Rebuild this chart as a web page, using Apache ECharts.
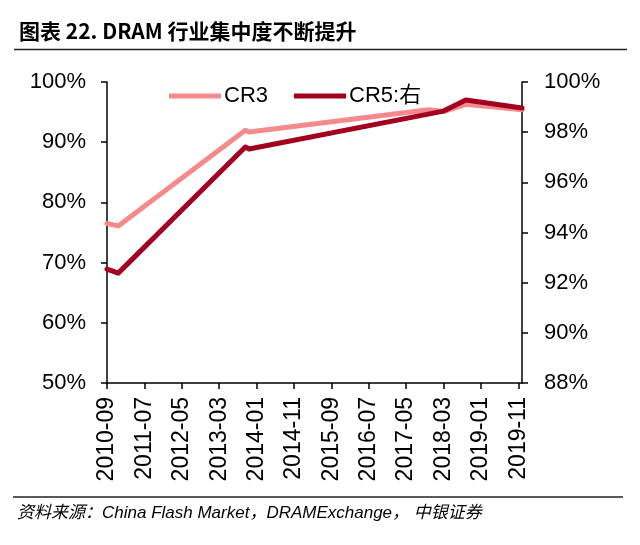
<!DOCTYPE html>
<html>
<head>
<meta charset="utf-8">
<script src="https://cdn.jsdelivr.net/npm/echarts@6/dist/echarts.min.js"></script>
<style>
html, body { margin: 0; padding: 0; background: #fff; }
#chart { width: 640px; height: 545px; }
</style>
</head>
<body>
<div id="chart"></div>
<script>
// monthly axis 2010-09 .. 2019-12, values only where the line bends
var startYear = 2010, startMonth = 9, monthCount = 112;

var cr3Months = ['2010-09', '2010-12', '2013-10', '2013-11', '2017-11', '2018-03', '2018-09', '2019-12'];
var cr3Values = [76.5, 76.1, 92.0, 91.7, 95.4, 95.1, 96.3, 95.4];

var cr5Months = ['2010-09', '2010-12', '2013-10', '2013-11', '2018-03', '2018-09', '2019-12'];
var cr5Values = [92.54, 92.38, 97.41, 97.33, 98.84, 99.28, 98.96];

var leftTicks = { min: 50, max: 100, step: 10 };
var rightTicks = { min: 88, max: 100, step: 2 };

var months = [];
for (var i = 0; i < monthCount; i++) {
    var m = startMonth - 1 + i;
    var y = startYear + Math.floor(m / 12);
    var mm = (m % 12) + 1;
    months.push(y + '-' + (mm < 10 ? '0' + mm : mm));
}

function toSeries(keys, vals) {
    return months.map(function (mo) {
        var k = keys.indexOf(mo);
        return k >= 0 ? vals[k] : null;
    });
}

var chart = echarts.init(document.getElementById('chart'));
var font = 'Liberation Sans, Arial, Noto Sans CJK SC, sans-serif';
var axisLine = { show: true, lineStyle: { color: '#000', width: 1.5 } };
var axisTick = { show: true, length: 6, lineStyle: { color: '#000', width: 1.5 } };

var option = {
    backgroundColor: '#fff',
    animation: false,
    title: {
        text: '图表 22. DRAM 行业集中度不断提升',
        left: 14,
        top: 16,
        textStyle: { fontSize: 21, fontWeight: 'bold', color: '#000', fontFamily: 'Liberation Sans Narrow, Noto Sans CJK SC, sans-serif' }
    },
    legend: {
        left: 164,
        top: 80,
        itemWidth: 52,
        itemHeight: 5,
        itemGap: 26,
        icon: 'rect',
        textStyle: { fontSize: 22, color: '#000', fontFamily: font, padding: [0, 0, 0, -2] },
        data: [{ name: 'CR3' }, { name: 'CR5:右' }]
    },
    grid: { left: 107, right: 118, top: 82, bottom: 162 },
    xAxis: {
        type: 'category',
        data: months,
        boundaryGap: false,
        axisLine: axisLine,
        axisTick: { show: true, length: 6, interval: 9, lineStyle: { color: '#000', width: 1.5 } },
        axisLabel: { interval: 9, rotate: 90, margin: 14, fontSize: 23, color: '#000', fontFamily: font }
    },
    yAxis: [
        {
            type: 'value',
            min: leftTicks.min, max: leftTicks.max, interval: leftTicks.step,
            splitLine: { show: false },
            axisLine: axisLine,
            axisTick: axisTick,
            axisLabel: { formatter: '{value}%', margin: 21, fontSize: 22, color: '#000', fontFamily: font }
        },
        {
            type: 'value',
            position: 'right',
            min: rightTicks.min, max: rightTicks.max, interval: rightTicks.step,
            splitLine: { show: false },
            axisLine: axisLine,
            axisTick: axisTick,
            axisLabel: { formatter: '{value}%', margin: 22, fontSize: 22, color: '#000', fontFamily: font }
        }
    ],
    series: [
        {
            name: 'CR3',
            type: 'line',
            yAxisIndex: 0,
            data: toSeries(cr3Months, cr3Values),
            connectNulls: true,
            showSymbol: false,
            symbol: 'none',
            itemStyle: { color: '#F58A8C' },
            lineStyle: { color: '#F58A8C', width: 5, join: 'round', cap: 'round' }
        },
        {
            name: 'CR5:右',
            type: 'line',
            yAxisIndex: 1,
            data: toSeries(cr5Months, cr5Values),
            connectNulls: true,
            showSymbol: false,
            symbol: 'none',
            itemStyle: { color: '#A3001F' },
            lineStyle: { color: '#A3001F', width: 5, join: 'round', cap: 'round' }
        }
    ],
    graphic: [
        { type: 'line', shape: { x1: 14, y1: 49.5, x2: 627, y2: 49.5 }, style: { stroke: '#222', lineWidth: 1.5 } },
        { type: 'line', shape: { x1: 13, y1: 497, x2: 623, y2: 497 }, style: { stroke: '#222', lineWidth: 1.5 } },
        {
            type: 'text', left: 17, top: 505,
            style: {
                text: '资料来源：China Flash Market，DRAMExchange， 中银证券',
                fill: '#000',
                font: 'italic 17px Liberation Sans, Noto Sans CJK SC, sans-serif'
            }
        }
    ]
};

chart.setOption(option);
window.addEventListener('resize', chart.resize);
</script>
</body>
</html>
